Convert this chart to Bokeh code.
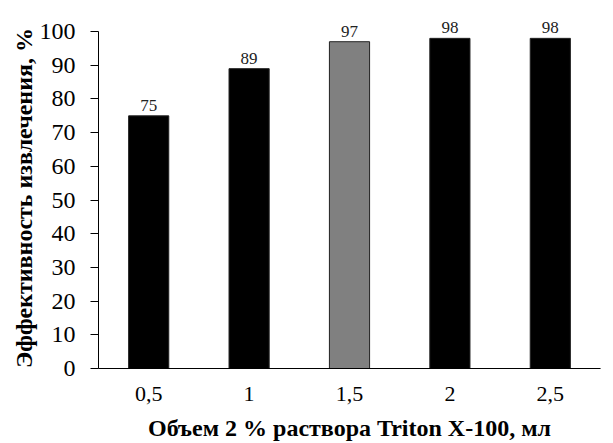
from bokeh.plotting import figure
from bokeh.models import ColumnDataSource, FactorRange, Range1d, FixedTicker
from bokeh.core.properties import value
from bokeh.embed import file_html
from bokeh.resources import INLINE

categories = ["0,5", "1", "1,5", "2", "2,5"]
efficiency = [75, 89, 97, 98, 98]
bar_colors = ["black", "black", "#808080", "black", "black"]
value_labels = ["75", "89", "97", "98", "98"]
y_ticks = [0, 10, 20, 30, 40, 50, 60, 70, 80, 90, 100]

FONT = "'Liberation Serif', 'Times New Roman', serif"

src = ColumnDataSource(dict(x=categories, y=efficiency, c=bar_colors, t=value_labels))

p = figure(width=613, height=443, output_backend="svg", toolbar_location=None,
           x_range=FactorRange(*categories, range_padding=0),
           y_range=Range1d(0, 103))
p.min_border_left = 98
p.min_border_right = 13
p.min_border_top = 21
p.min_border_bottom = 10
p.outline_line_color = None
p.xgrid.grid_line_color = None
p.ygrid.grid_line_color = None

p.vbar(x="x", top="y", width=0.4, fill_color="c", line_color="#222222", line_width=1, source=src)
p.text(x="x", y="y", text="t", source=src, text_align="center", text_baseline="bottom",
       y_offset=-5, text_font=value(FONT), text_font_size="17px", text_color="#222222")

ya = p.yaxis[0]
ya.ticker = FixedTicker(ticks=y_ticks)
ya.bounds = (0, 100)
ya.minor_tick_line_color = None
ya.major_tick_in = 0
ya.major_tick_out = 8
ya.major_label_standoff = 15
ya.major_label_text_font = FONT
ya.major_label_text_font_size = "24px"
ya.major_label_text_color = "black"
ya.axis_line_color = "black"
ya.major_tick_line_color = "black"
ya.axis_label = "Эффективность  извлечения, %"
ya.axis_label_text_font = FONT
ya.axis_label_text_font_style = "bold"
ya.axis_label_text_font_size = "24px"
ya.axis_label_text_color = "black"
ya.axis_label_standoff = 0

xa = p.xaxis[0]
xa.major_tick_in = 0
xa.major_tick_out = 0
xa.major_label_standoff = 18
xa.major_label_text_font = FONT
xa.major_label_text_font_size = "22px"
xa.major_label_text_color = "black"
xa.axis_line_color = "black"
xa.axis_label = "Объем 2 % раствора Triton X-100, мл"
xa.axis_label_text_font = FONT
xa.axis_label_text_font_style = "bold"
xa.axis_label_text_font_size = "24px"
xa.axis_label_text_color = "black"
xa.axis_label_standoff = 11

# category boundary ticks on the x axis
edges = [(c, -0.5) for c in categories] + [(categories[-1], 0.5)]
p.segment(x0=edges, y0=[0] * len(edges), x1=edges, y1=[-2.3] * len(edges),
          line_color="black", line_width=1)

open("out.html", "w").write(file_html(p, INLINE))
